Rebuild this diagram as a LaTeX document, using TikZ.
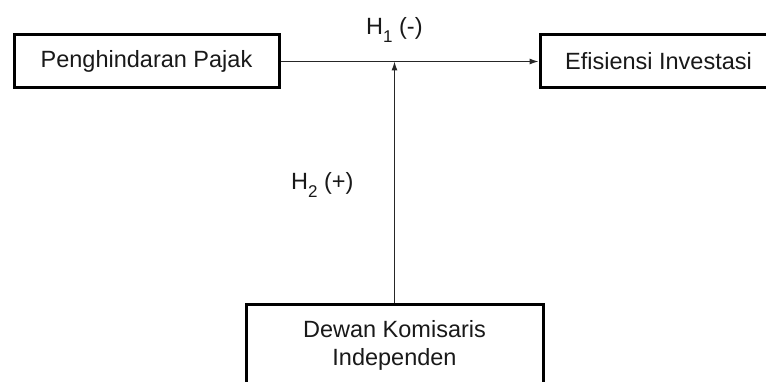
\documentclass[tikz,border=0pt]{standalone}
\usepackage{fontspec}
\setmainfont{Liberation Sans}
\usetikzlibrary{arrows.meta}
\newcommand{\subnum}[1]{\raisebox{-8pt}{\fontsize{17}{17}\selectfont #1}}
\tikzset{
  box/.style={draw=black, line width=3pt, fill=none, inner sep=0pt},
  txt/.style={inner sep=0pt, font=\fontsize{23.5}{28}\selectfont, text=black!90},
  conn/.style={line width=1.1pt, draw=black!85, -{Latex[length=9pt,width=6pt]}},
}
\begin{document}
\begin{tikzpicture}[x=1pt,y=-1pt]
\useasboundingbox (0,0) rectangle (766,382);
\clip (0,0) rectangle (766,382);
\fill[white] (0,0) rectangle (766,382);
\node[box, minimum width=265pt, minimum height=53pt] (pp) at (146.5,61.5) {};
\node[txt] (ppt) at (pp.center) {Penghindaran Pajak};
\node[box, minimum width=237pt, minimum height=53pt] (ei) at (658.5,61.5) {};
\node[txt] (eit) at (ei.center) {Efisiensi Investasi};
\node[box, minimum width=297pt, minimum height=116pt] (dki) at (394.5,362) {};
\node[txt, align=center] (dkit) at (394.5,345) {Dewan Komisaris\\Independen};
\coordinate (m) at (dki.north |- pp.east);
\draw[conn] (pp.east) -- (ei.west);
\draw[conn] (dki.north) -- (m);
\node[txt, anchor=base west] (h1) at (366,35) {H\subnum{1} (-)};
\node[txt, anchor=base west] (h2) at (291,190) {H\subnum{2} (+)};
\end{tikzpicture}
\end{document}
